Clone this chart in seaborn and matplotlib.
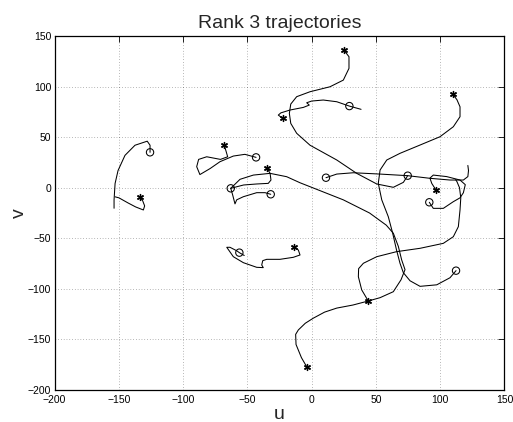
import matplotlib
matplotlib.use("Agg")
import matplotlib.pyplot as plt
import seaborn as sns
import pandas as pd
import numpy as np

# ---- data ----
u_a = [-153.8, -153.8, -153.0, -150.7, -145.3, -137.5, -128.0, -125.8, -125.8]
v_a = [-20.3, -12.0, 4.2, 17.0, 32.0, 42.0, 46.0, 42.0, 35.0]
u_a2 = [-134.0, -131.5, -130.0, -131.0, -137.0, -143.0, -150.0, -153.0]
v_a2 = [-9.0, -13.0, -18.0, -22.0, -19.0, -15.0, -10.0, -9.0]

u_b = [-68.0, -65.4, -71.0, -81.7, -88.0, -89.5, -87.0, -79.0, -71.4, -61.0, -52.0, -43.3]
v_b = [42.0, 30.6, 28.0, 30.6, 28.0, 20.8, 13.0, 19.0, 25.7, 31.3, 33.0, 30.0]

u_c = [-35.0, -32.4, -31.7, -33.8, -42.8, -53.0, -63.0]
v_c = [19.8, 14.2, 7.6, 4.3, 3.7, 2.7, -0.6]

u_d = [-63.0, -55.8, -45.4, -32.4, -19.5, -9.1, -1.3, 24.6, 45.0, 58.0, 63.5,
       67.4, 70.0, 72.6, 69.5, 63.5, 53.2, 44.0, 32.0, 19.5, 10.0, 1.2, -5.0,
       -10.4, -12.5, -12.2, -8.0, -3.9]
v_d = [-0.6, 8.3, 12.5, 14.2, 10.9, 4.9, 1.0, -12.0, -25.0, -37.0, -45.0,
       -58.0, -71.4, -81.0, -91.0, -102.8, -108.7, -112.0, -116.0, -119.0, -123.0, -129.0, -134.0,
       -140.6, -145.0, -155.0, -168.0, -177.0]

u_e = [25.1, 29.0, 29.0, 24.6, 14.2, -1.3, -11.7, -16.3, -17.4, -16.3, -11.7,
       -1.3, 19.5, 35.0, 50.6, 63.5, 71.3, 74.7]
v_e = [136.0, 129.5, 118.0, 106.4, 99.8, 94.9, 90.0, 82.7, 73.5, 63.6, 53.8,
       42.0, 27.4, 14.2, 3.7, 0.4, 5.3, 11.9]

u_f = [-22.6, -26.0, -24.0, -16.9, -6.5, -1.9, -3.9, 0.0, 9.0, 19.5, 29.3, 38.4]
v_f = [68.6, 71.8, 74.0, 76.8, 79.4, 81.7, 84.0, 85.7, 86.7, 85.0, 80.7, 77.5]

u_g = [11.1, 19.5, 32.4, 53.0, 74.7, 92.0, 107.6, 118.0, 121.5, 122.0, 121.5]
v_g = [9.9, 13.5, 14.8, 13.5, 11.9, 9.3, 7.6, 7.6, 11.0, 17.0, 22.0]

u_h = [109.7, 113.0, 115.4, 115.4, 110.2, 99.8, 84.3, 68.7, 58.4, 53.2, 51.8,
       54.5, 59.6, 63.0, 66.0, 68.7, 71.3, 76.5, 84.3, 97.3, 107.6, 112.3]
v_h = [92.6, 87.0, 80.0, 70.2, 60.3, 50.4, 42.2, 34.0, 27.4, 17.5, 4.3,
       -12.0, -28.7, -45.0, -61.6, -74.7, -84.0, -92.0, -97.5, -96.0, -89.0, -82.0]

u_i = [44.0, 38.9, 36.3, 36.5, 40.2, 50.6, 66.1, 84.3, 102.4, 110.2, 114.1,
       115.4, 116.0, 115.0, 113.0, 112.0]
v_i = [-112.0, -101.0, -88.0, -80.0, -74.7, -68.2, -63.2, -59.9, -55.0, -48.4, -38.5,
       -22.0, -10.0, 0.0, 6.0, 8.0]

u_j = [96.7, 93.4, 92.0, 94.6, 105.0, 115.4, 119.5, 118.0, 115.4, 110.2, 102.4, 94.6, 91.5]
v_j = [-2.3, 4.3, 9.5, 12.5, 11.0, 7.6, 3.0, -5.0, -10.0, -13.8, -20.4, -20.4, -14.4]

u_l = [-63.0, -61.5, -59.7, -58.4, -53.2, -42.8, -36.3, -31.9]
v_l = [-0.6, -7.2, -16.0, -12.0, -8.9, -4.9, -4.9, -6.5]

u_m = [-13.8, -10.4, -9.1, -14.3, -24.7, -35.0, -38.1, -38.9, -37.7, -42.8,
       -53.2, -61.0, -66.1, -63.6, -58.4, -56.3, -52.5]
v_m = [-58.9, -61.6, -66.5, -68.8, -70.8, -70.8, -72.1, -76.4, -79.0, -78.7,
       -74.1, -68.2, -58.9, -58.9, -62.3, -64.2, -67.0]

star_u = [-134.0, -68.0, -35.0, -13.8, 25.1, -22.6, 109.7, 96.7, 44.0, -3.9]
star_v = [-9.0, 42.0, 19.8, -58.9, 136.0, 68.6, 92.6, -2.3, -112.0, -177.0]
circ_u = [-125.8, -43.3, -63.0, -31.9, -56.3, 29.3, 11.1, 74.7, 91.5, 112.3]
circ_v = [35.0, 30.0, -0.6, -6.5, -64.2, 80.7, 9.9, 11.9, -14.4, -82.0]

xticks = [-200, -150, -100, -50, 0, 50, 100, 150]
yticks = [-200, -150, -100, -50, 0, 50, 100, 150]

paths = {"a": (u_a, v_a), "a2": (u_a2, v_a2), "b": (u_b, v_b), "c": (u_c, v_c),
         "d": (u_d, v_d), "e": (u_e, v_e), "f": (u_f, v_f), "g": (u_g, v_g),
         "h": (u_h, v_h), "i": (u_i, v_i), "j": (u_j, v_j), "l": (u_l, v_l),
         "m": (u_m, v_m)}
rows = []
for k, (uu, vv) in paths.items():
    for n, (x, y) in enumerate(zip(uu, vv)):
        rows.append({"traj": k, "order": n, "u": x, "v": y})
df = pd.DataFrame(rows)

sns.set_style("white")
plt.rcParams["font.family"] = ["Liberation Sans", "DejaVu Sans"]

fig = plt.figure(figsize=(5.13, 4.22), dpi=100)
ax = fig.add_axes([0.1066, 0.0758, 0.8768, 0.8389])

sns.lineplot(data=df, x="u", y="v", units="traj", estimator=None, sort=False,
             color="black", linewidth=0.75, ax=ax, legend=False)
sns.scatterplot(x=star_u, y=star_v, marker=(6, 2, 0), s=18, color="black",
                linewidth=1.0, ax=ax, legend=False)
sns.scatterplot(x=circ_u, y=circ_v, marker="o", s=28, facecolor="none",
                edgecolor="black", linewidth=0.75, ax=ax, legend=False)

ax.set_xlim(-200, 150)
ax.set_ylim(-200, 150)
ax.set_xticks(xticks)
ax.set_yticks(yticks)
ax.grid(True, linestyle=(0, (1, 3)), color="black", linewidth=0.5, alpha=0.55)
ax.tick_params(direction="in", top=True, right=True, length=4, width=0.6,
               labelsize=7.5, colors="black", pad=2)
ax.tick_params(axis="x", pad=3.5)
ax.tick_params(axis="y", pad=2.5)
for s in ax.spines.values():
    s.set_color("black")
    s.set_linewidth(0.9)
ax.set_xlabel("u", fontsize=14, labelpad=1)
ax.set_ylabel("v", fontsize=14, labelpad=0)
ax.set_title("Rank 3 trajectories", fontsize=14, pad=6)

fig.savefig("out.png", dpi=100)
